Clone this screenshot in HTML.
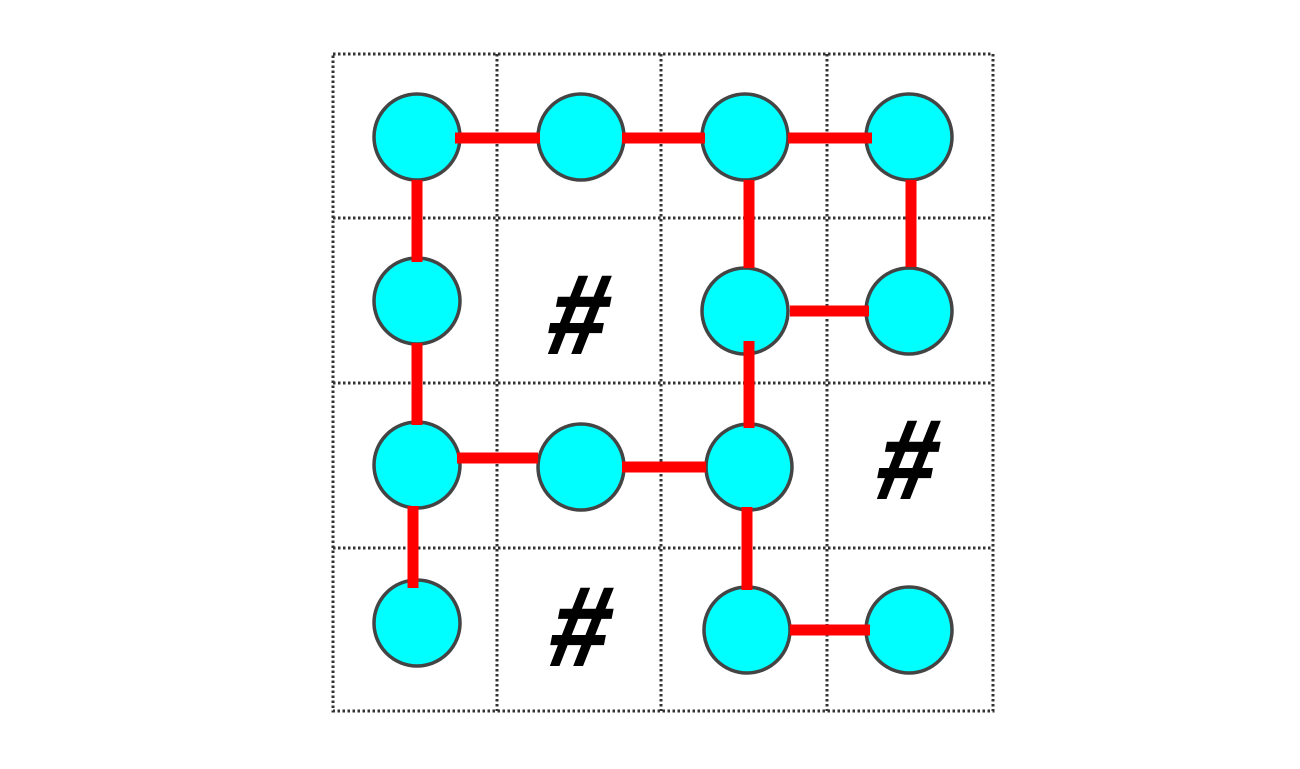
<!DOCTYPE html>
<html><head><meta charset="utf-8"><style>html,body{margin:0;padding:0;background:#fff;}svg{display:block}</style></head>
<body>
<svg width="1300" height="769" viewBox="0 0 1300 769" xmlns="http://www.w3.org/2000/svg">
<g stroke="#333" stroke-width="3" stroke-dasharray="2.5 2.5" fill="none">
<rect x="333" y="54" width="660" height="657"/>
<line x1="497" y1="54" x2="497" y2="711"/>
<line x1="661" y1="54" x2="661" y2="711"/>
<line x1="827" y1="54" x2="827" y2="711"/>
<line x1="333" y1="218" x2="993" y2="218"/>
<line x1="333" y1="383" x2="993" y2="383"/>
<line x1="333" y1="548" x2="993" y2="548"/>
</g>
<g fill="#00ffff" stroke="#444" stroke-width="3.5">
<circle cx="417" cy="137" r="43"/><circle cx="581" cy="137" r="43"/><circle cx="745" cy="137" r="43"/><circle cx="909" cy="137" r="43"/>
<circle cx="417" cy="301" r="43"/><circle cx="745" cy="311" r="43"/><circle cx="909" cy="311" r="43"/>
<circle cx="417" cy="465" r="43"/><circle cx="581" cy="467" r="43"/><circle cx="749" cy="467" r="43"/>
<circle cx="417" cy="623" r="43"/><circle cx="747" cy="630" r="43"/><circle cx="909" cy="630" r="43"/>
</g>
<g stroke="#ff0000" stroke-width="11" fill="none">
<line x1="455" y1="138" x2="540" y2="138"/>
<line x1="622" y1="138" x2="705" y2="138"/>
<line x1="788" y1="138" x2="872" y2="138"/>
<line x1="417" y1="180" x2="417" y2="262"/>
<line x1="417" y1="343" x2="417" y2="425"/>
<line x1="413" y1="506" x2="413" y2="588"/>
<line x1="749" y1="180" x2="749" y2="268"/>
<line x1="911" y1="180" x2="911" y2="267"/>
<line x1="790" y1="311" x2="869" y2="311"/>
<line x1="749" y1="341" x2="749" y2="428"/>
<line x1="457" y1="458" x2="538" y2="458"/>
<line x1="622" y1="467" x2="706" y2="467"/>
<line x1="747" y1="507" x2="747" y2="590"/>
<line x1="790" y1="630" x2="870" y2="630"/>
</g>
<g font-family="'Liberation Sans', sans-serif" font-weight="bold" font-size="112" text-anchor="middle" fill="#000" stroke="#000" stroke-width="2">
<text transform="translate(578,353) skewX(-11) scale(0.93,1) translate(-6,0)" x="0" y="0">#</text>
<text transform="translate(907,498) skewX(-11) scale(0.93,1) translate(-6,0)" x="0" y="0">#</text>
<text transform="translate(580,665) skewX(-11) scale(0.93,1) translate(-6,0)" x="0" y="0">#</text>
</g>
</svg>
</body></html>
